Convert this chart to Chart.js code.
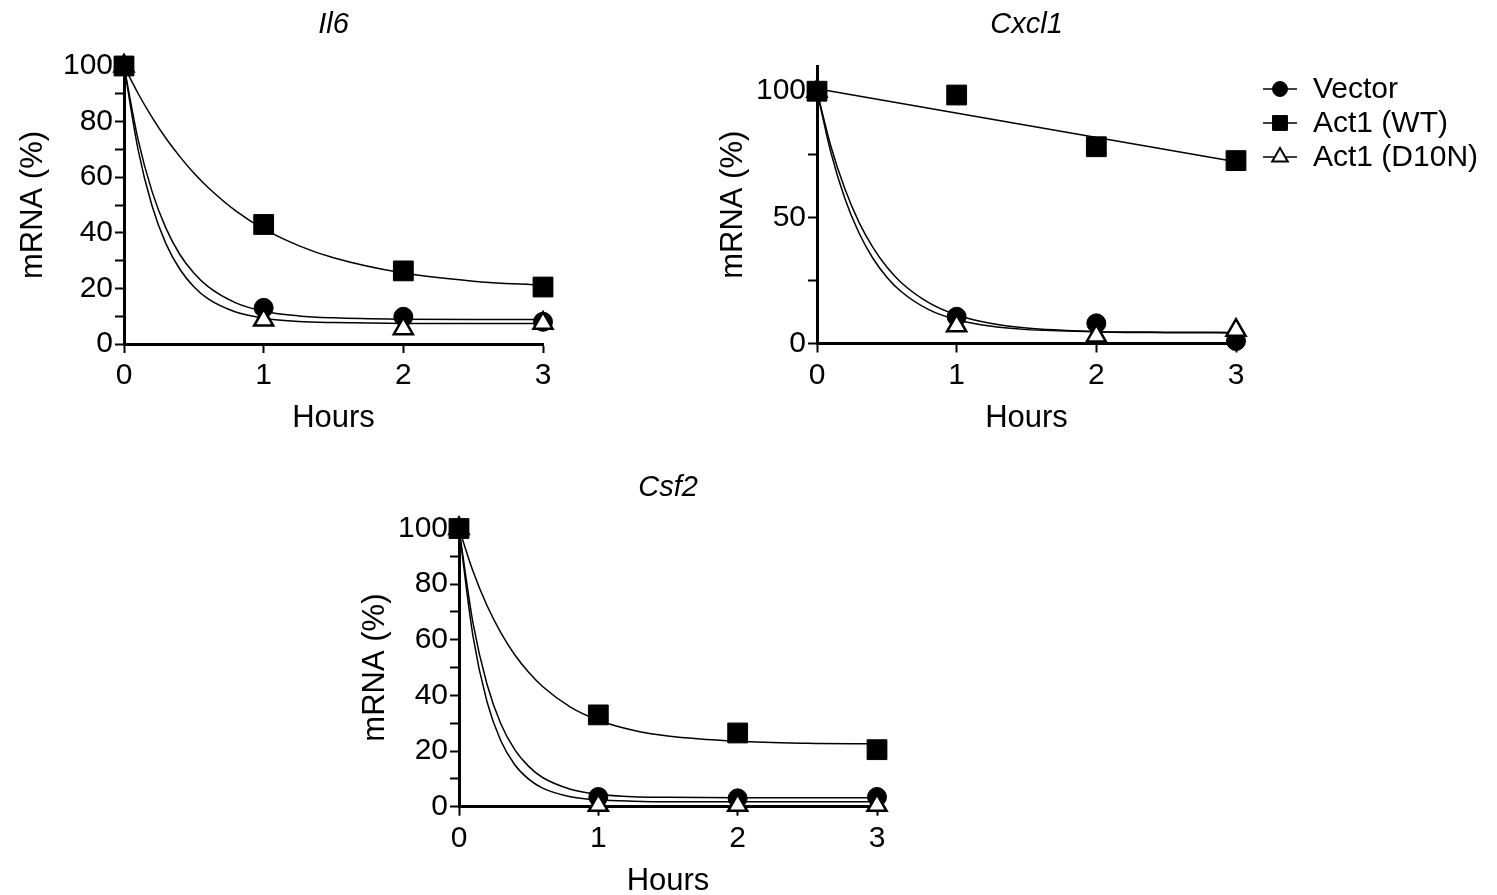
<!DOCTYPE html>
<html>
<head>
<meta charset="utf-8">
<title>mRNA decay</title>
<script src="https://cdn.jsdelivr.net/npm/chart.js@4.4.1/dist/chart.umd.min.js"></script>
<style>
  html, body { margin: 0; padding: 0; background: #fff; overflow: hidden; }
  #page { position: relative; width: 1497px; height: 895px; }
  canvas { position: absolute; }
</style>
</head>
<body>
<div id="page">
  <canvas id="il6" width="600" height="450" style="left:0px;top:0px"></canvas>
  <canvas id="cxcl1" width="797" height="450" style="left:700px;top:0px"></canvas>
  <canvas id="csf2" width="560" height="450" style="left:340px;top:460px"></canvas>
</div>
<script>
const hours = [0, 1, 2, 3];
const fitHours = [0, 0.1, 0.2, 0.3, 0.4, 0.5, 0.6, 0.8, 1, 1.25, 1.5, 2, 2.5, 3];
const lineHours = [0, 3];
const seriesNames = ['Vector', 'Act1 (WT)', 'Act1 (D10N)'];

// y tick positions (labels only on the major ones)
const pctTicks = [0, 10, 20, 30, 40, 50, 60, 70, 80, 90, 100];
const pctLabels = [0, 20, 40, 60, 80, 100];
const cxcl1Ticks = [0, 25, 50, 75, 100];
const cxcl1Labels = [0, 50, 100];

// Il6
const il6Vector = [100, 13, 9.8, 8];
const il6WT = [100, 43, 26.3, 20.5];
const il6D10N = [100, 8.6, 5.5, 7.5];
const il6VectorFit = [100, 73.7, 55.0, 41.7, 32.2, 25.5, 20.7, 14.8, 11.8, 10.1, 9.4, 8.9, 8.8, 8.8];
const il6WTFit = [100, 90.2, 81.6, 74.0, 67.4, 61.5, 56.4, 47.9, 41.4, 35.4, 31.0, 25.5, 22.6, 21.1];
const il6D10NFit = [100, 70.1, 49.8, 36.1, 26.9, 20.6, 16.3, 11.5, 9.3, 8.1, 7.7, 7.4, 7.4, 7.4];

// Cxcl1
const cxcl1Vector = [100, 10.6, 8, 1];
const cxcl1WT = [100, 98.5, 78, 72.5];
const cxcl1D10N = [100, 7, 3, 5.3];
const cxcl1VectorFit = [100, 78.1, 61.2, 48.1, 38.1, 30.3, 24.3, 16.2, 11.3, 7.9, 6.1, 4.7, 4.3, 4.2];
const cxcl1WTLine = [101, 72];
const cxcl1D10NFit = [100, 75.6, 57.4, 43.9, 33.8, 26.3, 20.7, 13.4, 9.4, 6.8, 5.5, 4.7, 4.5, 4.4];

// Csf2
const csf2Vector = [100, 3.5, 3, 3.5];
const csf2WT = [100, 33, 26.5, 20.5];
const csf2D10N = [100, 0.5, 0.5, 0.5];
const csf2VectorFit = [100, 66.2, 44.2, 29.8, 20.5, 14.5, 10.5, 6.3, 4.5, 3.6, 3.4, 3.2, 3.2, 3.2];
const csf2WTFit = [100, 84.7, 72.4, 62.6, 54.6, 48.3, 43.2, 35.8, 31.1, 27.5, 25.4, 23.5, 22.8, 22.6];
const csf2D10NFit = [100, 61.4, 37.9, 23.7, 15.1, 9.9, 6.7, 3.6, 2.5, 2.0, 1.8, 1.8, 1.8, 1.8];

const FONT = "'Liberation Sans', Arial, Helvetica, sans-serif";

function xy(xs, ys) {
  return xs.map((x, i) => ({ x: x, y: ys[i] }));
}

function fitLine(xs, ys, name) {
  return {
    label: name + ' fit',
    data: xy(xs, ys),
    showLine: true,
    borderColor: '#000',
    borderWidth: 1.5,
    pointRadius: 0,
    cubicInterpolationMode: 'monotone',
    clip: false,
    order: 3
  };
}

// lower order is drawn on top: squares, then triangles, then circles
function markers(ys, style) {
  const s = {
    rect: { pointStyle: 'rect', pointRadius: 14, bg: '#000', bw: 1, order: 0 },
    triangle: { pointStyle: 'triangle', pointRadius: 11, bg: '#fff', bw: 2.5, order: 1 },
    circle: { pointStyle: 'circle', pointRadius: 9.5, bg: '#000', bw: 1, order: 2 }
  }[style];
  return {
    label: style,
    data: xy(hours, ys),
    showLine: false,
    pointStyle: s.pointStyle,
    pointRadius: s.pointRadius,
    pointHoverRadius: s.pointRadius,
    pointBackgroundColor: s.bg,
    pointBorderColor: '#000',
    pointBorderWidth: s.bw,
    clip: false,
    order: s.order
  };
}

// legend with a short line through each marker, as in the figure
const sideLegend = {
  id: 'sideLegend',
  afterDraw(chart, args, opts) {
    if (!opts.show) return;
    const ctx = chart.ctx;
    const styles = [
      { pointStyle: 'circle', radius: 7.5, fill: '#000', bw: 1 },
      { pointStyle: 'rect', radius: 10.5, fill: '#000', bw: 1 },
      { pointStyle: 'triangle', radius: 9, fill: '#fff', bw: 2 }
    ];
    ctx.save();
    seriesNames.forEach((name, i) => {
      const y = opts.top + i * opts.gap;
      ctx.strokeStyle = '#000';
      ctx.lineWidth = 1.5;
      ctx.beginPath();
      ctx.moveTo(opts.x - 17, y);
      ctx.lineTo(opts.x + 17, y);
      ctx.stroke();
      ctx.fillStyle = styles[i].fill;
      ctx.lineWidth = styles[i].bw;
      Chart.helpers.drawPoint(ctx, {
        pointStyle: styles[i].pointStyle,
        radius: styles[i].radius,
        borderWidth: styles[i].bw,
        rotation: 0
      }, opts.x, y);
      ctx.fillStyle = '#000';
      ctx.font = '30px ' + FONT;
      ctx.textBaseline = 'middle';
      ctx.textAlign = 'left';
      ctx.fillText(name, opts.x + 33, y + 1);
    });
    ctx.restore();
  }
};

function makeChart(id, cfg) {
  return new Chart(document.getElementById(id), {
    type: 'scatter',
    data: { datasets: cfg.datasets },
    options: {
      responsive: false,
      animation: false,
      devicePixelRatio: 1,
      layout: { padding: cfg.pad },
      plugins: {
        legend: { display: false },
        tooltip: { enabled: false },
        title: {
          display: true,
          text: cfg.title,
          color: '#000',
          fullSize: false,
          font: { family: FONT, size: 29, style: 'italic', weight: 'normal' },
          padding: cfg.titlePad
        },
        sideLegend: cfg.legend || { show: false }
      },
      scales: {
        x: {
          type: 'linear',
          min: 0,
          max: 3,
          afterFit: (s) => { s.height = cfg.xHeight; },
          afterBuildTicks: (s) => { s.ticks = hours.map(v => ({ value: v })); },
          ticks: {
            color: '#000',
            padding: 5,
            font: { family: FONT, size: 30 }
          },
          grid: { drawOnChartArea: false, drawTicks: true, tickLength: 9, tickColor: '#000', tickWidth: 2 },
          border: { display: true, color: '#000', width: 3 },
          title: {
            display: true,
            text: 'Hours',
            color: '#000',
            font: { family: FONT, size: 31 },
            padding: { top: 0, bottom: cfg.hoursPad }
          }
        },
        y: {
          type: 'linear',
          min: 0,
          max: cfg.yMax,
          afterFit: (s) => { s.width = cfg.yWidth; },
          afterBuildTicks: (s) => { s.ticks = cfg.yTicks.map(v => ({ value: v })); },
          ticks: {
            color: '#000',
            padding: 2,
            autoSkip: false,
            font: { family: FONT, size: 30 },
            callback: (v) => (cfg.yLabels.includes(v) ? v : '')
          },
          grid: { drawOnChartArea: false, drawTicks: true, tickLength: 9, tickColor: '#000', tickWidth: 2 },
          border: { display: true, color: '#000', width: 3 },
          title: {
            display: true,
            text: 'mRNA (%)',
            color: '#000',
            font: { family: FONT, size: 31 },
            padding: { top: cfg.mrnaPad, bottom: 0 }
          }
        }
      }
    },
    plugins: [sideLegend]
  });
}

makeChart('il6', {
  title: 'Il6',
  datasets: [
    markers(il6WT, 'rect'),
    markers(il6D10N, 'triangle'),
    markers(il6Vector, 'circle'),
    fitLine(fitHours, il6VectorFit, seriesNames[0]),
    fitLine(fitHours, il6WTFit, seriesNames[1]),
    fitLine(fitHours, il6D10NFit, seriesNames[2])
  ],
  pad: { left: 0, right: 57, top: 0, bottom: 0 },
  titlePad: { top: 7.6, bottom: 23.6 },
  yWidth: 124, xHeight: 106, hoursPad: 13, mrnaPad: 14.4,
  yMax: 100, yTicks: pctTicks, yLabels: pctLabels
});

makeChart('cxcl1', {
  title: 'Cxcl1',
  datasets: [
    markers(cxcl1WT, 'rect'),
    markers(cxcl1D10N, 'triangle'),
    markers(cxcl1Vector, 'circle'),
    fitLine(fitHours, cxcl1VectorFit, seriesNames[0]),
    fitLine(lineHours, cxcl1WTLine, seriesNames[1]),
    fitLine(fitHours, cxcl1D10NFit, seriesNames[2])
  ],
  pad: { left: 0, right: 261, top: 0, bottom: 0 },
  titlePad: { top: 7.6, bottom: 23.6 },
  yWidth: 117, xHeight: 106.5, hoursPad: 12.5, mrnaPad: 14.4,
  yMax: 110, yTicks: cxcl1Ticks, yLabels: cxcl1Labels,
  legend: { show: true, x: 580, top: 89, gap: 34 }
});

makeChart('csf2', {
  title: 'Csf2',
  datasets: [
    markers(csf2WT, 'rect'),
    markers(csf2D10N, 'triangle'),
    markers(csf2Vector, 'circle'),
    fitLine(fitHours, csf2VectorFit, seriesNames[0]),
    fitLine(fitHours, csf2WTFit, seriesNames[1]),
    fitLine(fitHours, csf2D10NFit, seriesNames[2])
  ],
  pad: { left: 0, right: 23, top: 0, bottom: 0 },
  titlePad: { top: 10.6, bottom: 23.1 },
  yWidth: 119, xHeight: 103.3, hoursPad: 9.5, mrnaPad: 16.4,
  yMax: 100, yTicks: pctTicks, yLabels: pctLabels
});
</script>
</body>
</html>
